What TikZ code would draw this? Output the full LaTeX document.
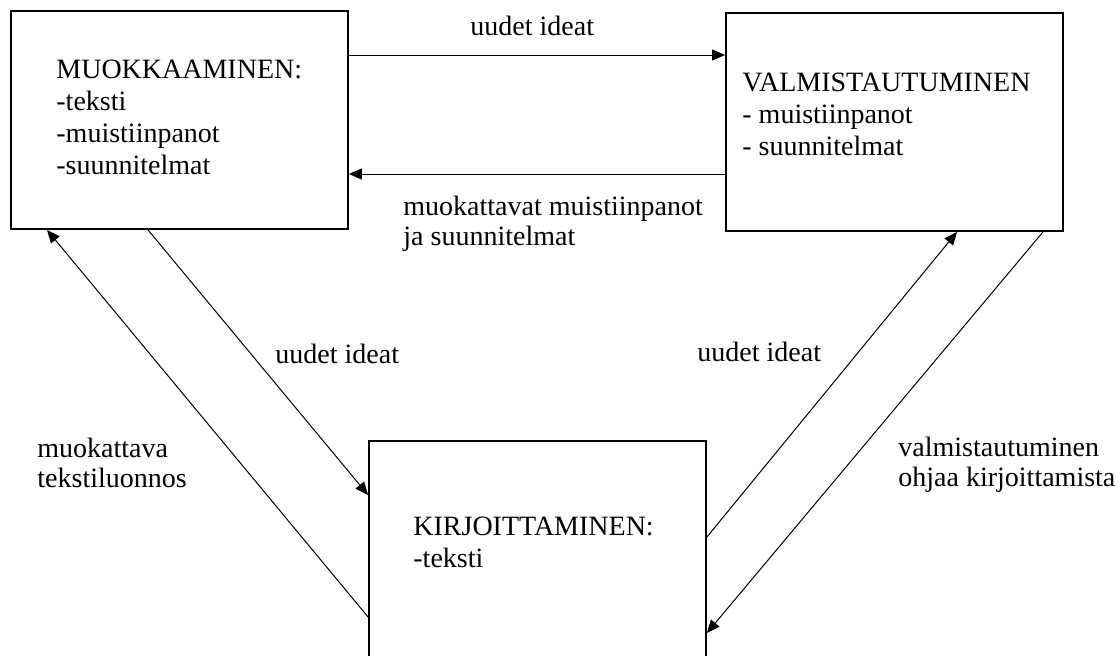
\documentclass[tikz,border=0pt]{standalone}
\usepackage{fontspec}
\setmainfont{Liberation Serif}
\usetikzlibrary{arrows.meta}
\begin{document}
\begin{tikzpicture}[x=0.5pt,y=-0.5pt,
  box/.style={draw, line width=0.9pt, minimum width=168.5pt, minimum height=109pt, inner sep=0pt},
  txt/.style={font=\fontsize{14}{16}\selectfont, align=left, anchor=base west, inner sep=0pt},
  lbl/.style={font=\fontsize{14}{15}\selectfont, align=left, anchor=base west, inner sep=0pt},
  arr/.style={line width=0.5pt, -{Triangle[length=6.5pt,width=5.5pt]}}]
\useasboundingbox (0,0) rectangle (1116,655);
\clip (0,0) rectangle (1116,655);
\node[box] (m) at (179.5,120) {};
\node[box] (v) at (894.5,122) {};
\node[box] (k) at (537.5,550) {};
\node[txt] (mt) at (56,174) {MUOKKAAMINEN:\\-teksti\\-muistiinpanot\\-suunnitelmat};
\node[txt] (vt) at (742,155) {VALMISTAUTUMINEN\\- muistiinpanot\\- suunnitelmat};
\node[txt] (kt) at (413,567) {KIRJOITTAMINEN:\\-teksti};
\draw[arr] (m.east |- 0,55) -- (v.west |- 0,55);
\draw[arr] (v.west |- 0,174) -- (m.east |- 0,174);
\draw[arr] (k.west |- 0,617) -- (m.south -| 47,0);
\draw[arr] (m.south -| 148,0) -- (k.west |- 0,495);
\draw[arr] (k.east |- 0,537) -- (v.south -| 957,0);
\draw[arr] (v.south -| 1043,0) -- (k.east |- 0,633);
\node[lbl] (l1) at (470,35) {uudet ideat};
\node[lbl] (l2) at (403,245) {muokattavat muistiinpanot\\ja suunnitelmat};
\node[lbl] (l3) at (275,363) {uudet ideat};
\node[lbl] (l4) at (697,361) {uudet ideat};
\node[lbl] (l5) at (37,487) {muokattava\\tekstiluonnos};
\node[lbl] (l6) at (898,486) {valmistautuminen\\ohjaa kirjoittamista};
\end{tikzpicture}
\end{document}
